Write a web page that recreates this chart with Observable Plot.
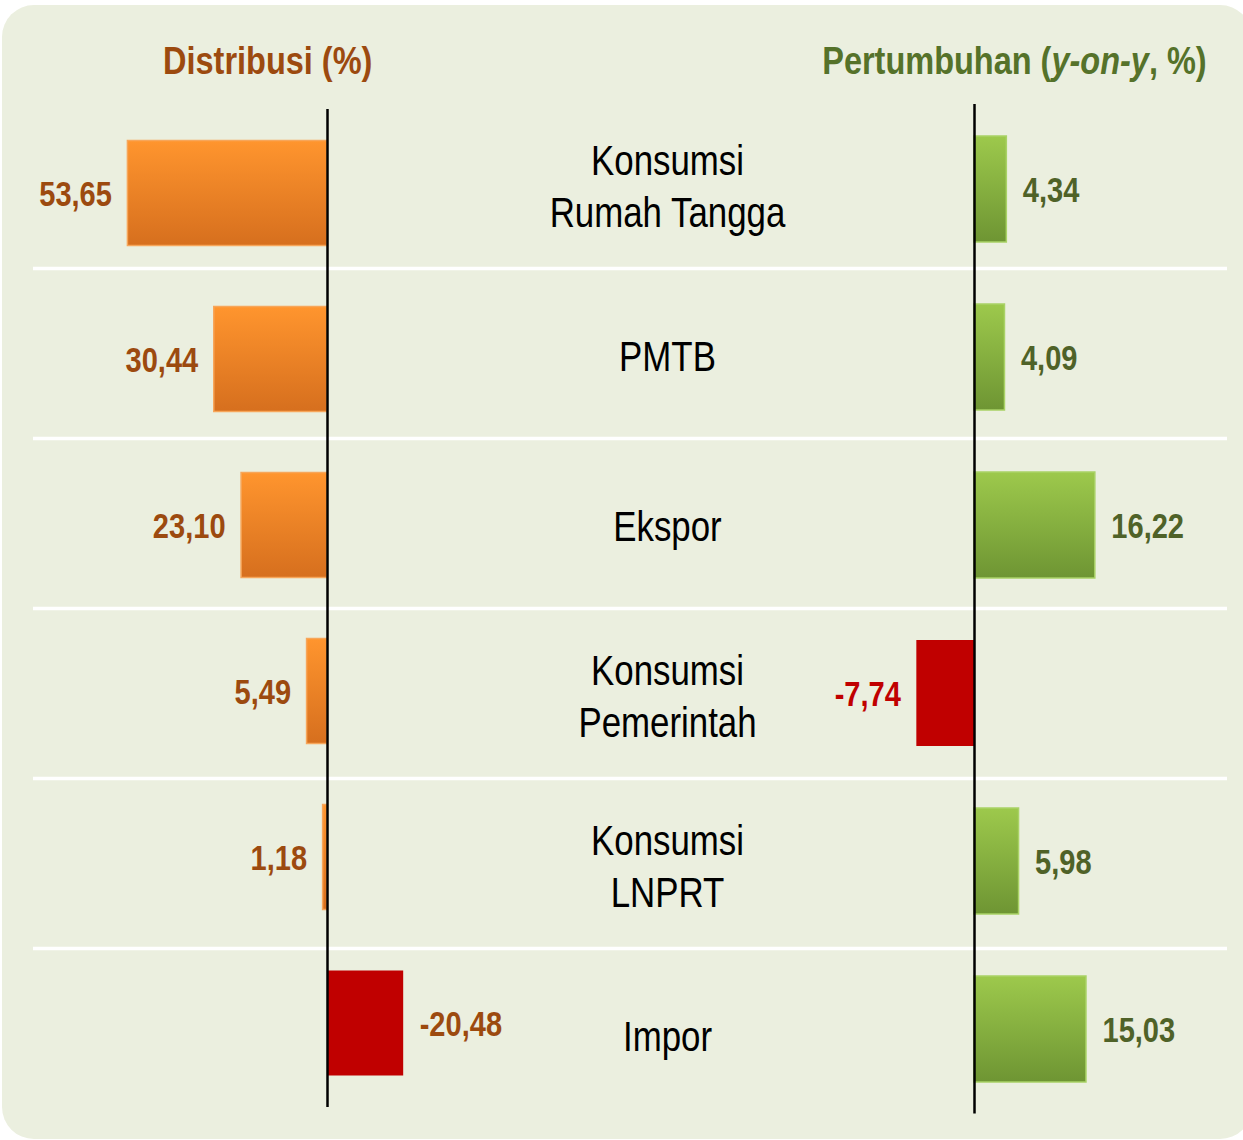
<!DOCTYPE html>
<html>
<head>
<meta charset="utf-8">
<script src="https://cdn.jsdelivr.net/npm/d3@7"></script>
<script src="https://cdn.jsdelivr.net/npm/@observablehq/plot@0.6"></script>
<style>
  html, body { margin: 0; padding: 0; background: #ffffff; }
  #wrap { position: relative; width: 1243px; height: 1140px; overflow: hidden; }
  #bg { position: absolute; left: 2px; top: 5px; width: 1250px; height: 1134px; background: #EBEFDF; border-radius: 32px; }
  .layer { position: absolute; top: 0; }
  .layer svg { overflow: visible; max-width: none !important; }
  .title { position: absolute; font-family: "Liberation Sans", Arial, sans-serif; font-weight: bold; font-size: 38px; line-height: 1; white-space: nowrap; }
</style>
</head>
<body>
<div id="wrap">
  <div id="bg"></div>
</div>
<script>
const categories = ["Konsumsi\nRumah Tangga", "PMTB", "Ekspor", "Konsumsi\nPemerintah", "Konsumsi\nLNPRT", "Impor"];
const distribusi = [53.65, 30.44, 23.10, 5.49, 1.18, -20.48];
const pertumbuhan = [4.34, 4.09, 16.22, -7.74, 5.98, 15.03];
const distribusiLabels = ["53,65", "30,44", "23,10", "5,49", "1,18", "-20,48"];
const pertumbuhanLabels = ["4,34", "4,09", "16,22", "-7,74", "5,98", "15,03"];
const leftTitle = "Distribusi (%)";

const FONT = '"Liberation Sans", Arial, sans-serif';
const NARROW = 0.83;
const wrap = document.getElementById("wrap");

const leftData = categories.map((c, i) => ({cat: c, v: distribusi[i], label: distribusiLabels[i]}));
const rightData = categories.map((c, i) => ({cat: c, v: pertumbuhan[i], label: pertumbuhanLabels[i]}));

function addLayer(el, left) {
  // narrow the text glyphs (Arial Narrow look) around each text's anchor
  d3.select(el).selectAll("g[aria-label=text] text").each(function() {
    const t = this.getAttribute("transform") || "";
    this.setAttribute("transform", t + ` scale(${NARROW},1)`);
  });
  const d = document.createElement("div");
  d.className = "layer";
  d.style.left = left + "px";
  d.appendChild(el);
  wrap.appendChild(d);
}

function gradients() {
  const svg = d3.create("svg:defs");
  const mk = (id, top, bottom) => {
    const g = svg.append("linearGradient").attr("id", id).attr("x1", 0).attr("y1", 0).attr("x2", 0).attr("y2", 1);
    g.append("stop").attr("offset", "0%").attr("stop-color", top);
    g.append("stop").attr("offset", "100%").attr("stop-color", bottom);
  };
  mk("gOrange", "#FF952E", "#D66F1E");
  mk("gGreen", "#9DC94C", "#6E9533");
  return svg.node();
}

// ---- Center layer: separators and category labels ----
const centerH = 1140;
const cTop = 98, cBottom = centerH - 1118;
const rowH = (centerH - cTop - cBottom) / categories.length;
const center = Plot.plot({
  width: 1243, height: centerH,
  marginTop: cTop, marginBottom: cBottom, marginLeft: 0, marginRight: 0,
  x: {domain: [0, 1243], axis: null},
  y: {type: "band", domain: categories, padding: 0, axis: null},
  style: {background: "transparent", overflow: "visible"},
  marks: [
    Plot.ruleY(categories.slice(1), {y: d => d, x1: 33, x2: 1227, stroke: "#FFFFFF", strokeWidth: 3.5, dy: -rowH / 2}),
    Plot.text(categories, {y: d => d, x: 667, text: d => d, fill: "#000", fontSize: 42, fontFamily: FONT, lineHeight: 1.22, dy: 1})
  ]
});
addLayer(center, 0);

// ---- Left panel ----
const lW = 660, lZero = 327, lK = 3.72;
const labelStyle = {fontWeight: "bold", fontSize: 35, fontFamily: FONT, dy: 1};
const left = Plot.plot({
  width: lW, height: 1140,
  marginTop: 109, marginBottom: 1140 - 1107, marginLeft: 0, marginRight: 0,
  x: {domain: [lZero / lK, -(lW - lZero) / lK], axis: null},
  y: {domain: categories, padding: 0, axis: null},
  style: {background: "transparent", overflow: "visible"},
  marks: [
    gradients,
    Plot.barX(leftData, {y: "cat", x: "v", insetTop: 30.5, insetBottom: 30.5,
      fill: d => d.v < 0 ? "#C00000" : "url(#gOrange)",
      stroke: d => d.v < 0 ? "none" : "#F7A65A", strokeWidth: 1.5}),
    Plot.ruleX([0], {stroke: "#000", strokeWidth: 2.5}),
    Plot.text(leftData.filter(d => d.v >= 0), {y: "cat", x: "v", text: "label", textAnchor: "end", dx: -16, fill: "#9C4A0F", ...labelStyle}),
    Plot.text(leftData.filter(d => d.v < 0), {y: "cat", x: "v", text: "label", textAnchor: "start", dx: 16, fill: "#9C4A0F", ...labelStyle})
  ]
});
addLayer(left, 0);

// ---- Right panel ----
const rL = 800, rW = 443, rZero = 974 - rL, rK = 7.45;
const right = Plot.plot({
  width: rW, height: 1140,
  marginTop: 104, marginBottom: 1140 - 1113.6, marginLeft: 0, marginRight: 0,
  x: {domain: [-rZero / rK, (rW - rZero) / rK], axis: null},
  y: {domain: categories, padding: 0, axis: null},
  style: {background: "transparent", overflow: "visible"},
  marks: [
    gradients,
    Plot.barX(rightData, {y: "cat", x: "v", insetTop: 31, insetBottom: 31,
      fill: d => d.v < 0 ? "#C00000" : "url(#gGreen)",
      stroke: d => d.v < 0 ? "none" : "#A9D266", strokeWidth: 1.5}),
    Plot.ruleX([0], {stroke: "#000", strokeWidth: 2.5}),
    Plot.text(rightData.filter(d => d.v >= 0), {y: "cat", x: "v", text: "label", textAnchor: "start", dx: 16, fill: "#4F6228", ...labelStyle}),
    Plot.text(rightData.filter(d => d.v < 0), {y: "cat", x: "v", text: "label", textAnchor: "end", dx: -16, fill: "#C00000", ...labelStyle})
  ]
});
addLayer(right, rL);

// Titles
const t1 = document.createElement("div");
t1.className = "title";
t1.style.color = "#9C4A0F";
t1.style.left = "163px"; t1.style.top = "42px";
t1.style.transform = "scaleX(0.855)"; t1.style.transformOrigin = "left top";
t1.textContent = leftTitle;
wrap.appendChild(t1);

const t2 = document.createElement("div");
t2.className = "title";
t2.style.color = "#55722A";
t2.style.right = "36px"; t2.style.top = "42px";
t2.style.transform = "scaleX(0.855)"; t2.style.transformOrigin = "right top";
t2.innerHTML = "Pertumbuhan (<i>y-on-y</i>, %)";
wrap.appendChild(t2);
</script>
</body>
</html>
